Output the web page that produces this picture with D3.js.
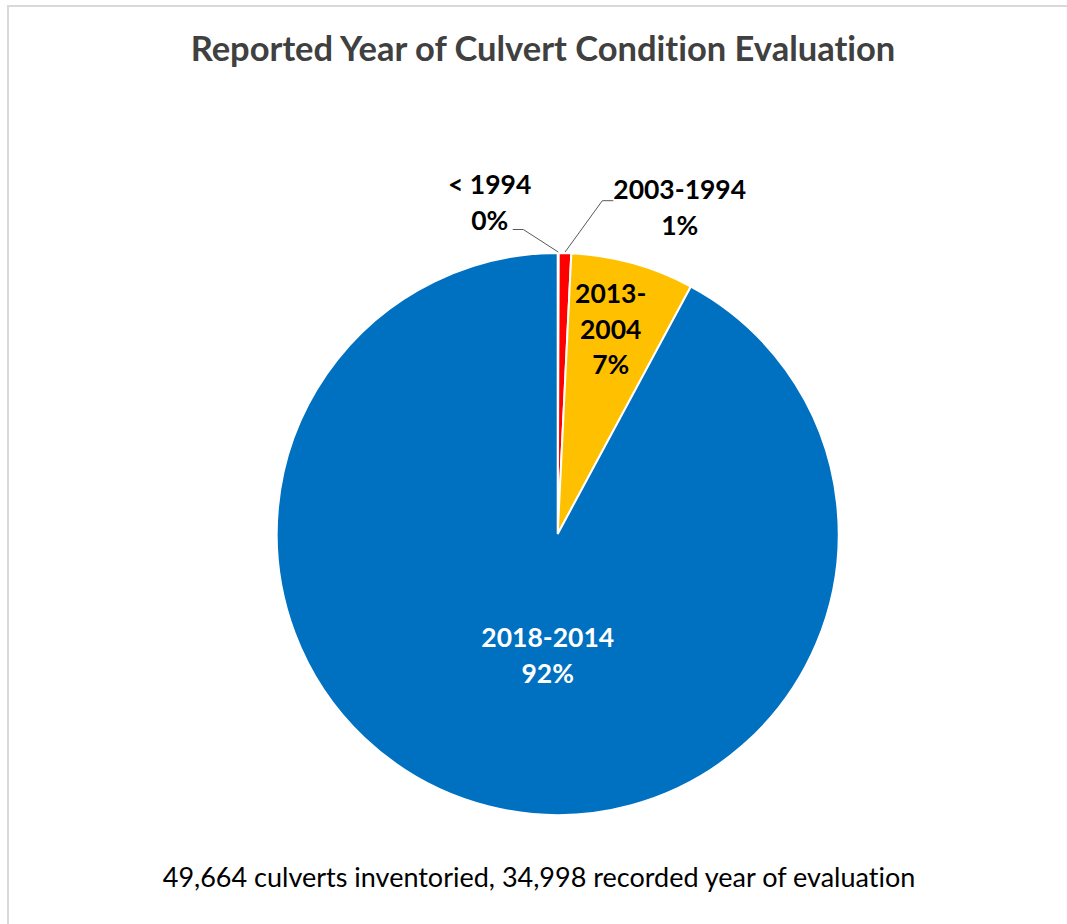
<!DOCTYPE html>
<html>
<head>
<meta charset="utf-8">
<script src="https://cdn.jsdelivr.net/npm/d3@7"></script>
<style>
  html, body { margin: 0; padding: 0; background: #fff; }
  svg { display: block; }
  text { font-family: Lato, "Open Sans", sans-serif; font-variant-ligatures: none; font-feature-settings: "liga" 0, "dlig" 0; }
</style>
</head>
<body>
<svg id="chart" width="1067" height="924"></svg>
<script>
// slices run clockwise from 12 o'clock, in this order
const periods = ['< 1994', '2003-1994', '2013-2004', '2018-2014']
const counts = [20, 250, 2480, 32248]   // 34,998 culverts with a recorded year
const sliceColors = ['#7f7f7f', '#ff0000', '#ffc000', '#0070c0']

const titleText = 'Reported Year of Culvert Condition Evaluation'
const footText = '49,664 culverts inventoried, 34,998 recorded year of evaluation'

let svg = d3.select('#chart')
let W = +svg.attr('width'), H = +svg.attr('height')

let cx = 557.7, cy = 534, R = 281

// chart frame, runs off the right and bottom of the shot
svg.append('rect')
    .attr('x', 8).attr('y', 6)
    .attr('width', W + 20).attr('height', H + 20)
    .attr('fill', '#fff')
    .attr('stroke', '#d9d9d9')
    .attr('stroke-width', 2)

svg.append('text')
    .attr('x', 543).attr('y', 61)
    .attr('text-anchor', 'middle')
    .style('font-size', '34.5px')
    .style('font-weight', 'bold')
    .style('fill', '#404040')
    .text(titleText)

svg.append('text')
    .attr('x', 539).attr('y', 887)
    .attr('text-anchor', 'middle')
    .style('font-size', '27px')
    .style('fill', '#000')
    .text(footText)

let total = d3.sum(counts)
let data = periods.map((p, i) => ({name: p, value: counts[i], color: sliceColors[i]}))

let pie = d3.pie().sort(null).value(d => d.value)
let arcs = pie(data)
let arc = d3.arc().innerRadius(0).outerRadius(R)

let g = svg.append('g').attr('transform', 'translate(' + cx + ',' + cy + ')')

g.selectAll('path.slice')
    .data(arcs)
    .enter()
    .append('path')
        .attr('class', 'slice')
        .attr('d', arc)
        .attr('fill', d => d.data.color)
        .attr('stroke', '#fff')
        .attr('stroke-width', 2)

let pct = d => Math.round(d.value / total * 100) + '%'

// inside labels: where excel put them, relative to the centre
let inside = {
    '2013-2004': {dx: 53, lines: ['2013-', '2004'], y0: -231, color: '#000'},
    '2018-2014': {dx: -10, lines: ['2018-2014'], y0: 113, color: '#fff'}
}
// outside labels with leader lines
let outside = {
    '< 1994': {lx: -68, ly: -340, elbow: [-34.4, -304.5], end: [-45, -304.5]},
    '2003-1994': {lx: 122, ly: -335, elbow: [44.6, -333.3], end: [55.6, -333.3]}
}

let lineGap = 35.5

arcs.forEach(a => {
    let name = a.data.name
    if (inside[name]) {
        let o = inside[name]
        let t = g.append('text')
            .attr('text-anchor', 'middle')
            .style('font-size', '26.5px')
            .style('font-weight', 'bold')
            .style('fill', o.color)
        o.lines.concat([pct(a.data)]).forEach((s, k) => {
            t.append('tspan').attr('x', o.dx).attr('y', o.y0 + k * lineGap).text(s)
        })
    } else if (outside[name]) {
        let o = outside[name]
        let mid = (a.startAngle + a.endAngle) / 2
        let tip = [Math.sin(mid) * (R + 1), -Math.cos(mid) * (R + 1)]
        g.append('polyline')
            .attr('points', [tip, o.elbow, o.end].map(p => p.join(',')).join(' '))
            .attr('fill', 'none')
            .attr('stroke', '#595959')
            .attr('stroke-width', 1)
        let t = g.append('text')
            .attr('text-anchor', 'middle')
            .style('font-size', '26.5px')
            .style('font-weight', 'bold')
            .style('fill', '#000')
        t.append('tspan').attr('x', o.lx).attr('y', o.ly).text(name)
        t.append('tspan').attr('x', o.lx).attr('y', o.ly + lineGap).text(pct(a.data))
    }
})
</script>
</body>
</html>
